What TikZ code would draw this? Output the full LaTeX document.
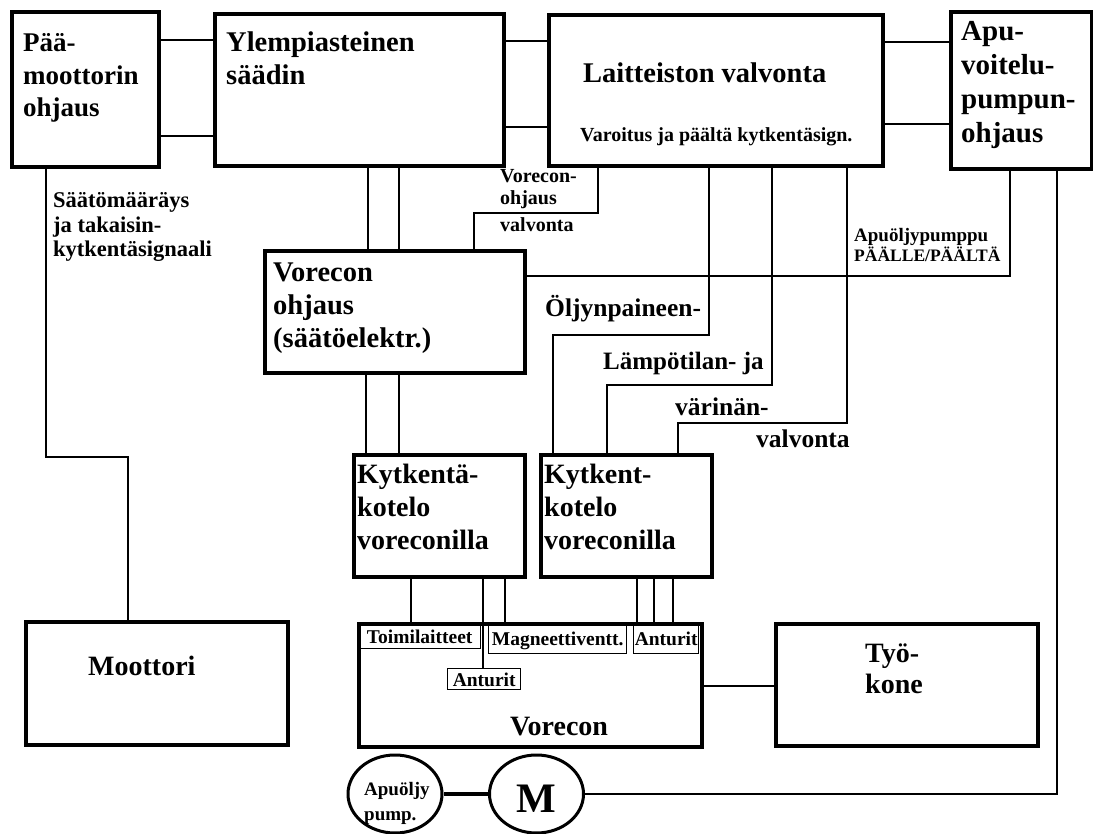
\documentclass[tikz,border=0pt]{standalone}
\usepackage{fontspec}
\setmainfont{Liberation Serif}
\usetikzlibrary{shapes.geometric}
\newcommand\fsz[2]{\fontsize{#1}{#2}\selectfont}
\begin{document}
\begin{tikzpicture}[x=1pt,y=-1pt,
  box/.style={draw, line width=4pt, inner sep=0pt, anchor=north west},
  sub/.style={draw, line width=1.4pt, inner sep=0pt, anchor=north west, font=\bfseries\fsz{19.5}{22}, text height=14pt, text depth=0pt},
  conn/.style={line width=2pt},
  tl/.style={anchor=base west, inner sep=0pt},
  ell/.style={draw, ellipse, line width=3pt, inner sep=0pt, minimum width=94pt, minimum height=78pt}
]
\fill[white] (0,0) rectangle (1093,834);
\useasboundingbox (0,0) rectangle (1093,834);

% boxes
\node[box, minimum width=147pt, minimum height=155pt] (pm) at (10,10) {};
\node[box, minimum width=289pt, minimum height=152pt] (yl) at (213,12) {};
\node[box, minimum width=334pt, minimum height=151pt] (lv) at (547,13) {};
\node[box, minimum width=141pt, minimum height=157pt] (apu) at (949,10) {};
\node[box, minimum width=260pt, minimum height=122pt] (vo) at (263,249) {};
\node[box, minimum width=171pt, minimum height=122pt] (kk1) at (352,453) {};
\node[box, minimum width=171pt, minimum height=122pt] (kk2) at (539,453) {};
\node[box, minimum width=262pt, minimum height=123pt] (mo) at (24,620) {};
\node[box, minimum width=343pt, minimum height=123pt] (vc) at (357,622) {};
\node[box, minimum width=262pt, minimum height=122pt] (tk) at (774,622) {};

% box texts (anchor = baseline of first line)
\node[tl, font=\bfseries\fsz{27}{32.5}] (pmt) at (23,52) {\vtop{\hbox{Pää-}\hbox{moottorin}\hbox{ohjaus}}};
\node[tl, font=\bfseries\fsz{28.5}{33}] (ylt) at (226,52) {\vtop{\hbox{Ylempiasteinen}\hbox{säädin}}};
\node[tl, font=\bfseries\fsz{28.5}{33}] (lvt) at (583,83) {Laitteiston valvonta};
\node[tl, font=\bfseries\fsz{20}{24}] (lvs) at (580,142) {Varoitus ja päältä kytkentäsign.};
\node[tl, font=\bfseries\fsz{29}{34}] (aput) at (961,41) {\vtop{\hbox{Apu-}\hbox{voitelu-}\hbox{pumpun-}\hbox{ohjaus}}};
\node[tl, font=\bfseries\fsz{28.5}{33}] (vot) at (273,282) {\vtop{\hbox{Vorecon}\hbox{ohjaus}\hbox{(säätöelektr.)}}};
\node[tl, font=\bfseries\fsz{28}{33}] (kk1t) at (357,483) {\vtop{\hbox{Kytkentä-}\hbox{kotelo}\hbox{voreconilla}}};
\node[tl, font=\bfseries\fsz{28}{33}] (kk2t) at (544,483) {\vtop{\hbox{Kytkent-}\hbox{kotelo}\hbox{voreconilla}}};
\node[tl, font=\bfseries\fsz{28}{33}] (mot) at (88,675) {Moottori};
\node[tl, font=\bfseries\fsz{28}{31}] (tkt) at (865,662) {\vtop{\hbox{Työ-}\hbox{kone}}};
\node[anchor=base, inner sep=0pt, font=\bfseries\fsz{28}{33}] (vct) at (559,735) {Vorecon};

% sub boxes inside Vorecon
\node[sub, minimum width=122pt, minimum height=25pt, text depth=-3pt] (toim) at (358,623) {Toimilaitteet};
\node[sub, minimum width=138pt, minimum height=30pt] (mag) at (488,623) {Magneettiventt.};
\node[sub, minimum width=65pt, minimum height=30pt] (ant2) at (633,623) {Anturit};
\node[sub, minimum width=73pt, minimum height=21pt] (ant1) at (447,668) {Anturit};

% pump and motor
\node[ell] (ap) at (395,794) {};
\node[tl, font=\bfseries\fsz{19}{25}] (apt) at (364,795) {\vtop{\hbox{Apuöljy}\hbox{pump.}}};
\node[ell] (m) at (536.5,794) {};
\node[anchor=base, inner sep=0pt, font=\bfseries\fsz{42}{42}] (mt) at (536.5,812) {M};

% connector labels
\node[tl, font=\bfseries\fsz{22.5}{24.5}] (lab1) at (53,208) {\vtop{\hbox{Säätömääräys}\hbox{ja takaisin-}\hbox{kytkentäsignaali}}};
\node[tl, font=\bfseries\fsz{20}{22}] (lab2) at (500,183) {\vtop{\hbox{Vorecon-}\hbox{ohjaus}\vskip5pt\hbox{valvonta}}};
\node[tl, font=\bfseries\fsz{19}{20}] (lab3) at (854,242) {\vtop{\hbox{Apuöljypumppu}\hbox{\fsz{17.5}{20}PÄÄLLE/PÄÄLTÄ}}};
\node[tl, font=\bfseries\fsz{25.5}{30}] (lab4) at (545,317) {Öljynpaineen-};
\node[tl, font=\bfseries\fsz{25}{30}] (lab5) at (603,370) {Lämpötilan- ja};
\node[tl, font=\bfseries\fsz{25.5}{30}] (lab6) at (675,415) {värinän-};
\node[tl, font=\bfseries\fsz{25.5}{30}] (lab7) at (756,447) {valvonta};

% helper coordinates
\coordinate (h1) at (0,40);  \coordinate (h2) at (0,136);
\coordinate (h3) at (0,41);  \coordinate (h4) at (0,127);
\coordinate (h5) at (0,42);  \coordinate (h6) at (0,124);
\coordinate (h7) at (0,686);
\coordinate (k1) at (46,457); \coordinate (k2) at (128,457);
\coordinate (x368) at (368,0); \coordinate (x399) at (399,0);
\coordinate (x366) at (366,0);
\coordinate (b1) at (598,213); \coordinate (b2) at (474,213);
\coordinate (a1) at (1010,276);
\coordinate (o1) at (709,335); \coordinate (o2) at (553,335);
\coordinate (l1) at (772,385); \coordinate (l2) at (607,385);
\coordinate (w1) at (847,423); \coordinate (w2) at (678,423);
\coordinate (x411) at (411,0); \coordinate (x483) at (483,0); \coordinate (x505) at (505,0);
\coordinate (x637) at (637,0); \coordinate (x654) at (654,0); \coordinate (x673) at (673,0);
\coordinate (x1057) at (1057,0);

% connectors
\draw[conn] (pm.east |- h1) -- (yl.west |- h1);
\draw[conn] (pm.east |- h2) -- (yl.west |- h2);
\draw[conn] (yl.east |- h3) -- (lv.west |- h3);
\draw[conn] (yl.east |- h4) -- (lv.west |- h4);
\draw[conn] (lv.east |- h5) -- (apu.west |- h5);
\draw[conn] (lv.east |- h6) -- (apu.west |- h6);
\draw[conn] (pm.south -| k1) -- (k1) -- (k2) -- (k2 |- mo.north);
\draw[conn] (yl.south -| x368) -- (vo.north -| x368);
\draw[conn] (yl.south -| x399) -- (vo.north -| x399);
\draw[conn] (lv.south -| b1) -- (b1) -- (b2) -- (vo.north -| b2);
\draw[conn] (apu.south -| a1) -- (a1) -- (vo.east |- a1);
\draw[conn] (lv.south -| o1) -- (o1) -- (o2) -- (kk2.north -| o2);
\draw[conn] (lv.south -| l1) -- (l1) -- (l2) -- (kk2.north -| l2);
\draw[conn] (lv.south -| w1) -- (w1) -- (w2) -- (kk2.north -| w2);
\draw[conn] (vo.south -| x366) -- (kk1.north -| x366);
\draw[conn] (vo.south -| x399) -- (kk1.north -| x399);
\draw[conn] (kk1.south -| x411) -- (toim.north -| x411);
\draw[conn] (kk1.south -| x483) -- (ant1.north -| x483);
\draw[conn] (kk1.south -| x505) -- (mag.north -| x505);
\draw[conn] (kk2.south -| x637) -- (ant2.north -| x637);
\draw[conn] (kk2.south -| x654) -- (ant2.north -| x654);
\draw[conn] (kk2.south -| x673) -- (ant2.north -| x673);
\draw[conn] (vc.east |- h7) -- (tk.west |- h7);
\draw[line width=3.5pt] (ap.east) -- (m.west);
\draw[conn] (m.east) -| (apu.south -| x1057);
\end{tikzpicture}
\end{document}
